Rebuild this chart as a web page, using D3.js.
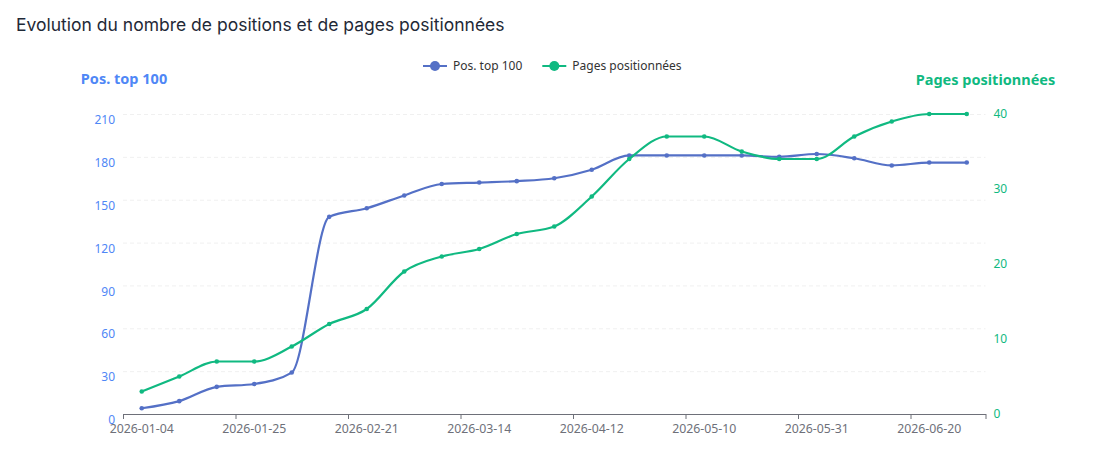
<!DOCTYPE html>
<html>
<head>
<meta charset="utf-8">
<script src="https://cdn.jsdelivr.net/npm/d3@7"></script>
<style>
  body { margin: 0; background: #fff; }
  svg { display: block; }
</style>
</head>
<body>
<svg id="chart" width="1095" height="463"></svg>
<script>
const dates = [
  "2026-01-04", "2026-01-11", "2026-01-18", "2026-01-25", "2026-02-01", "2026-02-08",
  "2026-02-21", "2026-02-28", "2026-03-07", "2026-03-14", "2026-03-22", "2026-03-29",
  "2026-04-12", "2026-04-19", "2026-04-26", "2026-05-10", "2026-05-17", "2026-05-24",
  "2026-05-31", "2026-06-07", "2026-06-14", "2026-06-20", "2026-06-27"
];
const positions = [4, 9, 19, 21, 29, 138, 144, 153, 161, 162, 163, 165, 171, 181, 181, 181, 181, 180, 182, 179, 174, 176, 176];
const pages = [3, 5, 7, 7, 9, 12, 14, 19, 21, 22, 24, 25, 29, 34, 37, 37, 35, 34, 34, 37, 39, 40, 40];
const leftTicks = [0, 30, 60, 90, 120, 150, 180, 210];
const rightTicks = [0, 10, 20, 30, 40];
const labelEvery = 3;

const blue = "#5470c6";
const green = "#10b981";
const axisBlue = "#4f87f6";
const font = "'Noto Sans', sans-serif";

const svg = d3.select("#chart");
const plotLeft = 123, plotRight = 985.5, plotTop = 114, plotBottom = 414;

const x = d3.scaleBand().domain(dates).range([plotLeft, plotRight]);
const xi = d3.scaleLinear().domain([0, dates.length]).range([plotLeft, plotRight]);
const yL = d3.scaleLinear().domain([0, 210]).range([plotBottom, plotTop]);
const yR = d3.scaleLinear().domain([0, 40]).range([plotBottom, plotTop]);
const cx = d => x(d) + x.bandwidth() / 2;

// title
svg.append("text")
  .attr("x", 16).attr("y", 31)
  .attr("font-family", "Inter, sans-serif")
  .attr("font-size", 17.5)
  .attr("fill", "#1f2937")
  .text("Evolution du nombre de positions et de pages positionnées");

// grid lines (left axis ticks)
const grid = svg.append("g")
  .attr("transform", `translate(${plotLeft},0)`)
  .call(d3.axisLeft(yL).tickValues(leftTicks).tickSize(-(plotRight - plotLeft)).tickFormat(""));
grid.select(".domain").remove();
grid.selectAll(".tick line")
  .attr("stroke", "#f0f0f0")
  .attr("stroke-dasharray", "4,3");
grid.selectAll(".tick").filter(d => d === 0).remove();

// left axis labels (drawn a little below their tick, as in the original)
const gL = svg.append("g")
  .attr("transform", `translate(${plotLeft},0)`)
  .call(d3.axisLeft(yL).tickValues(leftTicks).tickSize(0).tickPadding(8));
gL.select(".domain").remove();
gL.selectAll("text")
  .attr("font-family", font).attr("font-size", 12)
  .attr("fill", axisBlue).attr("dy", "0.8em");

// right axis labels
const gR = svg.append("g")
  .attr("transform", `translate(${plotRight},0)`)
  .call(d3.axisRight(yR).tickValues(rightTicks).tickSize(0).tickPadding(8));
gR.select(".domain").remove();
gR.selectAll("text")
  .attr("font-family", font).attr("font-size", 12)
  .attr("fill", green);

// x axis line + ticks at band boundaries
const tickIdx = d3.range(0, dates.length, labelEvery).concat([dates.length]);
const gX = svg.append("g")
  .attr("transform", `translate(0,${plotBottom})`)
  .call(d3.axisBottom(xi).tickValues(tickIdx).tickSize(5).tickSizeOuter(0).tickFormat(""));
gX.select(".domain").attr("stroke", "#6e7079");
gX.selectAll(".tick line").attr("stroke", "#6e7079");

// x labels at band centers
const gXL = svg.append("g")
  .attr("transform", `translate(0,${plotBottom})`)
  .call(d3.axisBottom(x).tickValues(dates.filter((d, i) => i % labelEvery === 0)).tickSize(0).tickPadding(10));
gXL.select(".domain").remove();
gXL.selectAll("text")
  .attr("font-family", font).attr("font-size", 12.3)
  .attr("fill", "#6e7079");

// axis names
svg.append("text")
  .attr("x", plotLeft + 1).attr("y", 84)
  .attr("text-anchor", "middle")
  .attr("font-family", font).attr("font-size", 14.5).attr("font-weight", "bold")
  .attr("fill", axisBlue)
  .text("Pos. top 100");
svg.append("text")
  .attr("x", plotRight).attr("y", 85)
  .attr("text-anchor", "middle")
  .attr("font-family", font).attr("font-size", 14.5).attr("font-weight", "bold")
  .attr("fill", green)
  .text("Pages positionnées");

// series
const series = [
  { name: "Pos. top 100", values: positions, y: yL, color: blue },
  { name: "Pages positionnées", values: pages, y: yR, color: green }
];

series.forEach(s => {
  const line = d3.line()
    .x((d, i) => cx(dates[i]))
    .y(d => s.y(d))
    .curve(d3.curveMonotoneX);
  svg.append("path")
    .datum(s.values)
    .attr("d", line)
    .attr("fill", "none")
    .attr("stroke", s.color)
    .attr("stroke-width", 2.2);
  svg.append("g").selectAll("circle")
    .data(s.values)
    .join("circle")
    .attr("cx", (d, i) => cx(dates[i]))
    .attr("cy", d => s.y(d))
    .attr("r", 2.3)
    .attr("fill", s.color);
});

// legend
const legend = svg.append("g");
let lx = 423;
series.forEach(s => {
  const g = legend.append("g").attr("transform", `translate(${lx},66)`);
  g.append("line").attr("x1", 0).attr("x2", 24).attr("stroke", s.color).attr("stroke-width", 2);
  g.append("circle").attr("cx", 12).attr("r", 5).attr("fill", s.color);
  const t = g.append("text")
    .attr("x", 30).attr("dy", "0.35em")
    .attr("font-family", font).attr("font-size", 12)
    .attr("fill", "#333")
    .text(s.name);
  lx += 30 + t.node().getComputedTextLength() + 20;
});
</script>
</body>
</html>
